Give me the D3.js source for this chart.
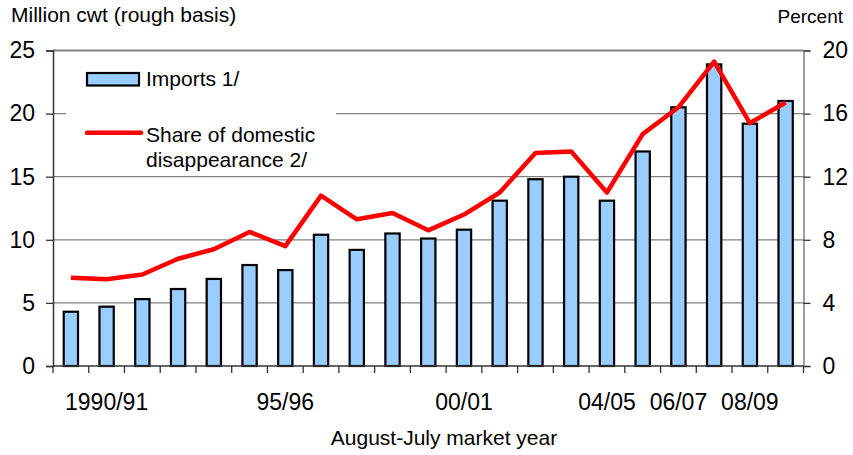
<!DOCTYPE html>
<html>
<head>
<meta charset="utf-8">
<script src="https://cdn.jsdelivr.net/npm/d3@7"></script>
<style>
  html, body { margin: 0; padding: 0; background: #fff; }
  svg { display: block; font-family: "Liberation Sans", Arial, sans-serif; }
</style>
</head>
<body>
<svg id="chart" width="853" height="455"></svg>
<script>
// August-July market years
const years = ["1989/90","1990/91","1991/92","1992/93","1993/94","1994/95","1995/96",
  "1996/97","1997/98","1998/99","1999/00","2000/01","2001/02","2002/03","2003/04",
  "2004/05","2005/06","2006/07","2007/08","2008/09","2009/10"];
// Imports, million cwt (rough basis)
const imports = [4.3, 4.7, 5.3, 6.1, 6.9, 8.0, 7.6, 10.4, 9.2, 10.5, 10.1,
  10.8, 13.1, 14.8, 15.0, 13.1, 17.0, 20.5, 23.9, 19.2, 21.0];
// Imports as a share of domestic disappearance, percent
const share = [5.6, 5.5, 5.8, 6.8, 7.4, 8.5, 7.6, 10.8, 9.3, 9.7, 8.6,
  9.6, 11.0, 13.5, 13.6, 11.0, 14.7, 16.4, 19.3, 15.4, 16.7];
// Years that carry a label on the category axis, and the text shown
const labeledYears = ["1990/91","1995/96","2000/01","2004/05","2006/07","2008/09"];
const labelText = ["1990/91","95/96","00/01","04/05","06/07","08/09"];
const leftTicks = [0, 5, 10, 15, 20, 25];
const rightTicks = [0, 4, 8, 12, 16, 20];

const svg = d3.select("#chart");
const plotL = 53, plotR = 803.5, plotT = 50.5, plotB = 366;

const x = d3.scaleBand().domain(years).range([plotL, plotR]).paddingInner(0).paddingOuter(0);
const yL = d3.scaleLinear().domain([0, 25]).range([plotB, plotT]);
const yR = d3.scaleLinear().domain([0, 20]).range([plotB, plotT]);

// horizontal gridlines
svg.append("g").selectAll("line").data(leftTicks.filter(d => d > 0)).join("line")
  .attr("x1", plotL).attr("x2", plotR)
  .attr("y1", d => yL(d)).attr("y2", d => yL(d))
  .attr("stroke", "#808080").attr("stroke-width", d => d === 25 ? 2 : 1.3);

// legend backdrop interrupts the gridline beneath it
svg.append("rect").attr("x", 66).attr("y", 62).attr("width", 270).attr("height", 108)
  .attr("fill", "#fff");

// bars
const barW = x.bandwidth() * 0.4;
svg.append("g").selectAll("rect").data(years).join("rect")
  .attr("x", d => x(d) + (x.bandwidth() - barW) / 2)
  .attr("width", barW)
  .attr("y", (d, i) => yL(imports[i]))
  .attr("height", (d, i) => plotB - yL(imports[i]))
  .attr("fill", "#99CCFF").attr("stroke", "#000").attr("stroke-width", 2.2);

// share line
const line = d3.line()
  .x((d, i) => x(years[i]) + x.bandwidth() / 2)
  .y(d => yR(d));
svg.append("path").datum(share).attr("d", line)
  .attr("fill", "none").attr("stroke", "#FF0000").attr("stroke-width", 4.5)
  .attr("stroke-linejoin", "round");

// left axis
const axL = svg.append("g").attr("transform", `translate(${plotL},0)`)
  .call(d3.axisLeft(yL).tickValues(leftTicks).tickSize(7).tickPadding(11).tickFormat(d3.format("d")));
axL.select(".domain").attr("stroke", "#333").attr("stroke-width", 1.5);
axL.selectAll(".tick line").attr("stroke", "#333").attr("stroke-width", 1.3);
axL.selectAll("text").attr("font-size", 23).attr("fill", "#000")
  .attr("font-family", "Liberation Sans, Arial, sans-serif");

// right axis
const axR = svg.append("g").attr("transform", `translate(${plotR},0)`)
  .call(d3.axisRight(yR).tickValues(rightTicks).tickSize(7).tickPadding(12).tickFormat(d3.format("d")));
axR.select(".domain").attr("stroke", "#808080").attr("stroke-width", 1.5);
axR.selectAll(".tick line").attr("stroke", "#333").attr("stroke-width", 1.3);
axR.selectAll("text").attr("font-size", 23).attr("fill", "#000")
  .attr("font-family", "Liberation Sans, Arial, sans-serif");

// category axis: ticks between bands
const axB = svg.append("g").attr("transform", `translate(0,${plotB})`);
axB.append("line").attr("x1", plotL).attr("x2", plotR).attr("y1", 0).attr("y2", 0)
  .attr("stroke", "#333").attr("stroke-width", 1.5);
const boundaries = years.map(d => x(d)).concat([x(years[years.length - 1]) + x.bandwidth()]);
axB.selectAll("line.tk").data(boundaries).join("line").attr("class", "tk")
  .attr("x1", d => d).attr("x2", d => d).attr("y1", 0).attr("y2", 7)
  .attr("stroke", "#333").attr("stroke-width", 1.3);
axB.selectAll("text").data(labeledYears).join("text")
  .attr("x", d => x(d) + x.bandwidth() / 2).attr("y", 44)
  .attr("text-anchor", "middle").attr("font-size", 23)
  .text((d, i) => labelText[i]);

// axis titles
svg.append("text").attr("x", 11).attr("y", 22).attr("font-size", 21)
  .text("Million cwt (rough basis)");
svg.append("text").attr("x", 843).attr("y", 23).attr("text-anchor", "end").attr("font-size", 19)
  .text("Percent");
svg.append("text").attr("x", 444).attr("y", 445).attr("text-anchor", "middle").attr("font-size", 21)
  .text("August-July market year");

// legend
svg.append("rect").attr("x", 87).attr("y", 73).attr("width", 52).attr("height", 12.5)
  .attr("fill", "#99CCFF").attr("stroke", "#000").attr("stroke-width", 2.2);
svg.append("text").attr("x", 146).attr("y", 86).attr("font-size", 21).text("Imports 1/");
svg.append("line").attr("x1", 87).attr("x2", 141).attr("y1", 132.7).attr("y2", 132.7)
  .attr("stroke", "#FF0000").attr("stroke-width", 4.5).attr("stroke-linecap", "round");
const lt = svg.append("text").attr("x", 146).attr("y", 142).attr("font-size", 21);
lt.append("tspan").attr("x", 146).text("Share of domestic");
lt.append("tspan").attr("x", 146).attr("dy", 24.5).text("disappearance 2/");
</script>
</body>
</html>
